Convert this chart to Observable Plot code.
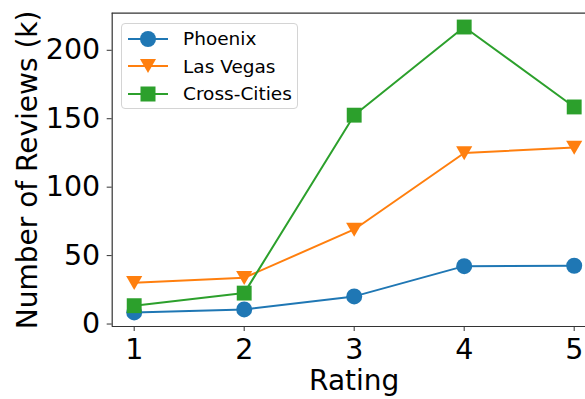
<!DOCTYPE html>
<html>
<head>
<meta charset="utf-8">
<script src="https://cdn.jsdelivr.net/npm/d3@7"></script>
<script src="https://cdn.jsdelivr.net/npm/@observablehq/plot@0.6"></script>
<style>
  html, body { margin: 0; padding: 0; background: white; overflow: hidden; }
  #wrap { position: relative; width: 585px; height: 399px; font-family: "DejaVu Sans", sans-serif; }
  #legend { position: absolute; left: 121px; top: 23px; width: 177px; height: 86px; box-sizing: border-box;
    border: 1px solid #d4d4d4; border-radius: 4px; background: rgba(255,255,255,0.85); }
  #legend .row { position: absolute; left: 0; height: 28px; display: flex; align-items: center; }
  #legend svg { display: block; }
  #legend span { font-size: 18.5px; color: #000; margin-left: 14px; white-space: nowrap; }
</style>
</head>
<body>
<div id="wrap"></div>
<script>
const ratings = [1, 2, 3, 4, 5];
const seriesNames = ["Phoenix", "Las Vegas", "Cross-Cities"];
const phoenix = [8.5, 10.7, 20.2, 42.3, 42.6];
const lasVegas = [30.2, 33.8, 69.1, 125.0, 129.0];
const crossCities = [13.4, 22.6, 152.6, 217.0, 158.6];
const yTicks = [0, 50, 100, 150, 200];
const colors = ["#1f77b4", "#ff7f0e", "#2ca02c"];

const seriesValues = [phoenix, lasVegas, crossCities];
const data = seriesNames.map((name, i) => ratings.map((r, j) => ({series: name, rating: r, value: seriesValues[i][j]})));

const font = "DejaVu Sans";
const W = 585, H = 399;
const xDomain = [0.8, 5.2];
const yDomain = [-1.8, 227.1];

const plot = Plot.plot({
  width: W,
  height: H,
  marginLeft: 111.7,
  marginRight: -10.7,
  marginTop: 12.7,
  marginBottom: 73,
  style: {fontFamily: font, fontSize: "28px", background: "white", overflow: "visible"},
  x: {domain: xDomain},
  y: {domain: yDomain},
  marks: [
    Plot.axisX({ticks: ratings, tickFormat: d => String(d), tickSize: 5, tickPadding: 7, fontSize: 28.5, label: null, stroke: "#333", fill: "#000"}),
    Plot.axisY({ticks: yTicks, tickFormat: d => String(d), tickSize: 5, tickPadding: 7, fontSize: 28.5, label: null, stroke: "#333", fill: "#000"}),
    Plot.line(data[0], {x: "rating", y: "value", stroke: colors[0], strokeWidth: 2}),
    Plot.dot(data[0], {x: "rating", y: "value", fill: colors[0], symbol: "circle", r: 8}),
    Plot.line(data[1], {x: "rating", y: "value", stroke: colors[1], strokeWidth: 2}),
    Plot.dot(data[1], {x: "rating", y: "value", fill: colors[1], symbol: "triangle", r: 6, rotate: 180, dy: -2}),
    Plot.line(data[2], {x: "rating", y: "value", stroke: colors[2], strokeWidth: 2}),
    Plot.dot(data[2], {x: "rating", y: "value", fill: colors[2], symbol: "square", r: 8.4}),
    Plot.ruleX([xDomain[0]], {stroke: "#333", strokeWidth: 1.2}),
    Plot.ruleY(yDomain, {stroke: "#333", strokeWidth: 1.2}),
    Plot.text(["Rating"], {frameAnchor: "bottom", text: d => d, lineAnchor: "middle", dy: 55, fontSize: 28, fill: "#000"}),
    Plot.text(["Number of Reviews (k)"], {frameAnchor: "left", text: d => d, rotate: -90, textAnchor: "middle", lineAnchor: "middle", dx: -84, fontSize: 28, fill: "#000"})
  ]
});

const wrap = document.getElementById("wrap");
wrap.appendChild(plot);

// legend overlay
const legend = document.createElement("div");
legend.id = "legend";
const symbols = ["circle", "triangle", "square"];
const rowTops = [0, 27.5, 55];
seriesNames.forEach((name, i) => {
  const row = document.createElement("div");
  row.className = "row";
  row.style.top = (rowTops[i] + 0.5) + "px";
  const svg = d3.create("svg").attr("width", 47).attr("height", 28);
  svg.append("line").attr("x1", 6).attr("x2", 46).attr("y1", 14).attr("y2", 14).attr("stroke", colors[i]).attr("stroke-width", 2);
  if (symbols[i] === "circle") {
    svg.append("circle").attr("cx", 26).attr("cy", 14).attr("r", 8).attr("fill", colors[i]);
  } else if (symbols[i] === "triangle") {
    svg.append("path").attr("d", "M18,7 L34,7 L26,21 Z").attr("fill", colors[i]);
  } else {
    svg.append("rect").attr("x", 18.5).attr("y", 6.5).attr("width", 15).attr("height", 15).attr("fill", colors[i]);
  }
  row.appendChild(svg.node());
  const span = document.createElement("span");
  span.textContent = name;
  row.appendChild(span);
  legend.appendChild(row);
});
wrap.appendChild(legend);
</script>
</body>
</html>
